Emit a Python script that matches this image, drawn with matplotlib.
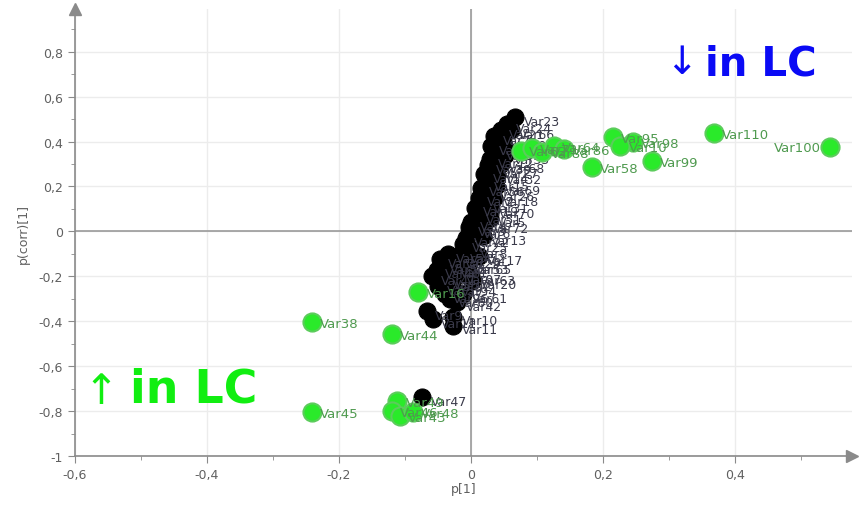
import numpy as np
import matplotlib.pyplot as plt
from matplotlib.ticker import MultipleLocator, FuncFormatter

# green (significant) loadings: p[1], p(corr)[1], label
green_x = [0.544, 0.368, 0.274, 0.183, 0.215, 0.245, 0.226,
           0.075, 0.092, 0.108, 0.125, 0.140,
           -0.241, -0.120, -0.080, -0.241, -0.112, -0.120, -0.108, -0.088]
green_y = [0.374, 0.437, 0.312, 0.285, 0.420, 0.398, 0.378,
           0.360, 0.372, 0.355, 0.380, 0.368,
           -0.405, -0.459, -0.272, -0.806, -0.757, -0.800, -0.824, -0.806]
green_lab = ['Var100', 'Var110', 'Var99', 'Var58', 'Var95', 'Var98', 'Var10',
             'Var62', 'Var71', 'Var88', 'Var64', 'Var86',
             'Var38', 'Var44', 'Var16', 'Var45', 'Var49', 'Var46', 'Var43', 'Var48']

# black (non-significant) loadings
black_x = [0.067, 0.055, 0.045, 0.035, 0.048, 0.030, 0.040, 0.052, 0.028, 0.025,
           0.036, 0.020, 0.022, 0.015, 0.030, 0.012, 0.020, 0.006, 0.010, 0.000,
           0.005, -0.003, -0.008, -0.012, 0.000, -0.015, -0.022, -0.010, -0.030, -0.020,
           -0.035, -0.028, -0.047, -0.052, -0.059, -0.040, -0.067, -0.058, -0.027, -0.027,
           -0.021, -0.074, 0.040, 0.035, 0.028, 0.018, 0.012, 0.002,
           -0.035, -0.045, -0.040, -0.050, -0.032, -0.012, 0.000, -0.005,
           0.060, 0.050, 0.045, 0.038, 0.030, 0.020]
black_y = [0.508, 0.477, 0.450, 0.423, 0.400, 0.380, 0.355, 0.340, 0.320, 0.295,
           0.275, 0.255, 0.220, 0.195, 0.175, 0.150, 0.120, 0.105, 0.070, 0.040,
           0.010, 0.020, -0.030, -0.055, -0.080, -0.100, -0.125, -0.150, -0.165, -0.195,
           -0.225, -0.250, -0.125, -0.170, -0.200, -0.280, -0.356, -0.392, -0.380, -0.420,
           -0.316, -0.739, 0.250, 0.150, 0.060, -0.020, -0.110, -0.220,
           -0.100, -0.150, -0.220, -0.245, -0.300, -0.280, -0.200, -0.150,
           0.450, 0.380, 0.300, 0.200, 0.100, 0.030]
black_lab = ['Var23', 'Var24', 'Var21', 'Var7', 'Var30', 'Var28', 'Var33', 'Var35', 'Var12', 'Var39',
             'Var27', 'Var14', 'Var15', 'Var56', 'Var26', 'Var2', 'Var31', 'Var19', 'Var51', 'Var4',
             'Var6', 'Var3', 'Var22', 'Var25', 'Var8', 'Var52', 'Var29', 'Var53', 'Var1', 'Var97',
             'Var92', 'Var94', 'Var36', 'Var40', 'Var41', 'Var96', 'Var9', 'Var11', 'Var10', 'Var11',
             'Var42', 'Var47', 'Var32', 'Var18', 'Var5', 'Var13', 'Var17', 'Var20',
             'Var54', 'Var55', 'Var57', 'Var59', 'Var60', 'Var61', 'Var63', 'Var65',
             'Var66', 'Var67', 'Var68', 'Var69', 'Var70', 'Var72']

W, H = 862, 510
fig = plt.figure(figsize=(W / 100, H / 100), dpi=100)
ax = fig.add_axes([75 / W, 1 - 457 / H, (852 - 75) / W, (457 - 10) / H])

ax.set_xlim(-0.6, 0.577)
ax.set_ylim(-1, 0.99)

for s in ['top', 'right']:
    ax.spines[s].set_visible(False)
for s in ['left', 'bottom']:
    ax.spines[s].set_color('#8a8a8a')
    ax.spines[s].set_linewidth(1.2)

ax.xaxis.set_major_locator(MultipleLocator(0.2))
ax.xaxis.set_minor_locator(MultipleLocator(0.1))
ax.yaxis.set_major_locator(MultipleLocator(0.2))
ax.yaxis.set_minor_locator(MultipleLocator(0.1))
fmt = FuncFormatter(lambda v, p: ('%g' % round(v, 2)).replace('.', ','))
ax.xaxis.set_major_formatter(fmt)
ax.yaxis.set_major_formatter(fmt)
ax.tick_params(which='both', direction='out', colors='#8a8a8a', labelcolor='#606060',
               labelsize=9)
ax.tick_params(which='major', length=5)
ax.tick_params(which='minor', length=3)
ax.grid(True, which='major', color='#ececec', linewidth=1)
ax.set_axisbelow(True)

ax.axhline(0, color='#9a9a9a', lw=1.2, zorder=1)
ax.axvline(0, color='#9a9a9a', lw=1.2, zorder=1)

# axis arrows
ax.plot(1, 0, '>', color='#8a8a8a', ms=8, transform=ax.transAxes, clip_on=False)
ax.plot(0, 1, '^', color='#8a8a8a', ms=8, transform=ax.transAxes, clip_on=False)

ax.set_xlabel('p[1]', fontsize=9, color='#606060', labelpad=1)
ax.set_ylabel('p(corr)[1]', fontsize=9, color='#606060', labelpad=6)

ax.scatter(black_x, black_y, s=150, c='black', edgecolors='black', linewidths=0.8, zorder=3)
for x, y, t in zip(black_x, black_y, black_lab):
    ax.annotate(t, (x, y), xytext=(6, -3), textcoords='offset points', fontsize=9,
                color='#3a3a4a', va='center', zorder=4)

ax.scatter(green_x, green_y, s=170, c='#2aea2a', edgecolors='#5ccc5c', linewidths=1.5, zorder=5)
for x, y, t in zip(green_x, green_y, green_lab):
    if t == 'Var100':
        ax.annotate(t, (x, y), xytext=(-7, 0), textcoords='offset points', fontsize=9.5,
                    color='#4f9a4f', va='center', ha='right', zorder=6)
    else:
        ax.annotate(t, (x, y), xytext=(6, -1), textcoords='offset points', fontsize=9.5,
                    color='#4f9a4f', va='center', zorder=6)

# annotations
fig.text(681 / W, 1 - 63 / H, '\u2193', fontsize=28, color='#0a0af5', va='center', ha='center')
fig.text(705 / W, 1 - 75 / H, 'in LC', fontsize=29, fontweight='bold', color='#0a0af5',
         va='baseline', ha='left')
fig.text(101 / W, 1 - 392 / H, '\u2191', fontsize=30, color='#11ee11', va='center', ha='center')
fig.text(130 / W, 1 - 403 / H, 'in LC', fontsize=33, fontweight='bold', color='#11ee11',
         va='baseline', ha='left')

fig.savefig('out.png', dpi=100)
